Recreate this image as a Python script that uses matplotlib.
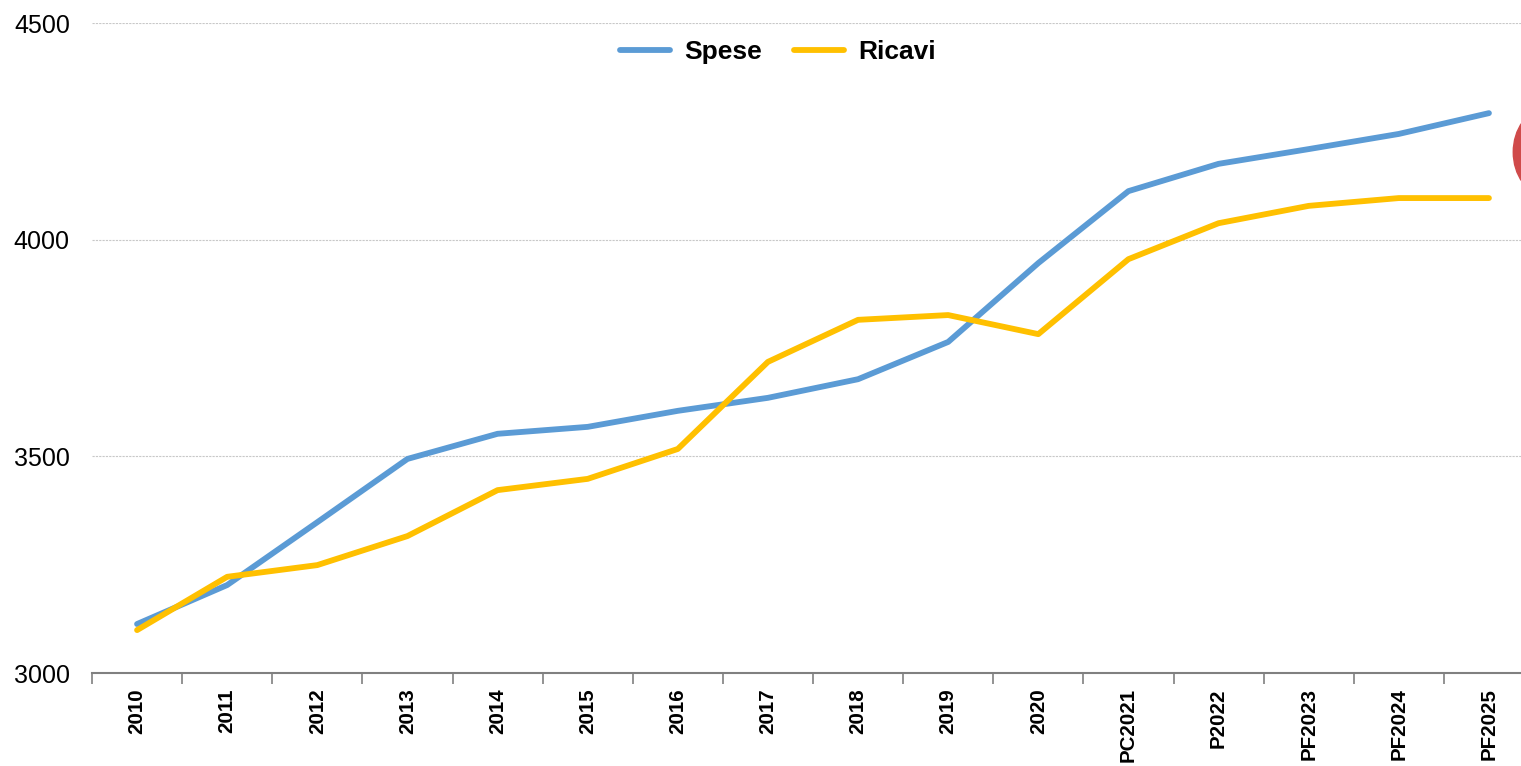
import matplotlib.pyplot as plt
from matplotlib.patches import Ellipse

plt.rcParams['font.family'] = ['Liberation Sans', 'DejaVu Sans']

# Data
anni = ['2010', '2011', '2012', '2013', '2014', '2015', '2016', '2017',
        '2018', '2019', '2020', 'PC2021', 'P2022', 'PF2023', 'PF2024', 'PF2025']
spese = [3113, 3203, 3348, 3494, 3552, 3568, 3605, 3635,
         3678, 3764, 3946, 4112, 4175, 4209, 4244, 4292]
ricavi = [3099, 3222, 3249, 3316, 3422, 3448, 3517, 3718,
          3815, 3826, 3782, 3955, 4038, 4078, 4096, 4096]

fig = plt.figure(figsize=(15.21, 7.66), dpi=100)
ax = fig.add_axes([92 / 1521, 1 - 673 / 766, 1442 / 1521, 650 / 766])

x = range(len(anni))
ax.plot(x, spese, color='#5B9BD5', lw=4.2, label='Spese', solid_capstyle='round')
ax.plot(x, ricavi, color='#FFC000', lw=4.2, label='Ricavi', solid_capstyle='round')

# red ellipse partly visible at the right edge
ax.add_patch(Ellipse((15.62, 4202), 0.7, 196, color='#D04A4A', clip_on=False, zorder=5))

ax.set_xlim(-0.5, len(anni) - 0.5)
ax.set_ylim(3000, 4500)
ax.set_yticks([3000, 3500, 4000, 4500])
ax.grid(axis='y', color='#c8c8c8', lw=0.8, ls=(0, (2, 1)))
ax.set_axisbelow(True)

for s in ['left', 'right', 'top']:
    ax.spines[s].set_visible(False)
ax.spines['bottom'].set_color('#808080')
ax.spines['bottom'].set_linewidth(1.5)

ax.set_xticks(list(x))
ax.set_xticklabels(anni, rotation=90, fontsize=14.8, fontweight='bold')
ax.set_xticks([i - 0.5 for i in x], minor=True)
ax.tick_params(axis='x', which='major', length=0, pad=11)
ax.tick_params(axis='x', which='minor', length=8, color='#808080', width=1.2)
ax.tick_params(axis='y', length=0, labelsize=18, pad=16)

ax.legend(loc='center', bbox_to_anchor=(778 / 1521, 1 - 52 / 766),
          bbox_transform=fig.transFigure, ncol=2, frameon=False,
          prop={'size': 19, 'weight': 'bold'}, handlelength=1.9,
          columnspacing=1.2, handletextpad=0.55)

fig.savefig('out.png', dpi=100)
